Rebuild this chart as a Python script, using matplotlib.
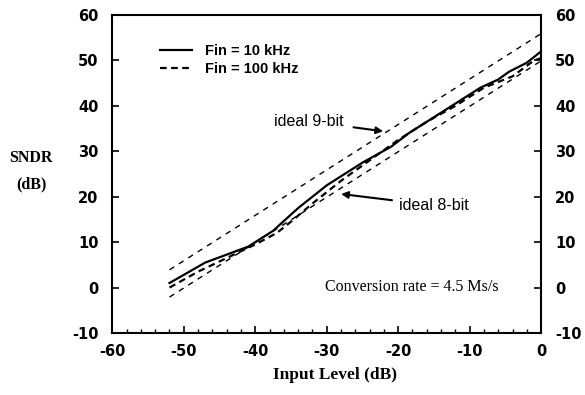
import numpy as np
import matplotlib
matplotlib.use("Agg")
import matplotlib.pyplot as plt
from matplotlib.ticker import MultipleLocator

plt.rcParams["axes.unicode_minus"] = False

# measured SNDR, Fin = 10 kHz
x_10k = [-52, -47, -41, -37.5, -34, -30, -25, -21, -18.5, -15.5, -12.5, -8.5, -6, -4.5, -2, 0]
y_10k = [1, 5.5, 9, 12.5, 17.5, 22.5, 27.5, 31, 34, 37, 40, 44, 45.8, 47.5, 49.5, 52]

# measured SNDR, Fin = 100 kHz
x_100k = [-52, -48, -44, -40, -37, -35, -32, -28, -24, -20, -16, -12, -8, -4, -1, 0]
y_100k = [0, 3.5, 6.5, 9.5, 12, 14.5, 18.5, 23.5, 28, 32.5, 36.5, 40, 44, 46.5, 50, 50.5]

# ideal lines (end points)
x_ideal = [-52, 0]
y_ideal9 = [3.9, 55.9]
y_ideal8 = [-2.1, 49.9]

sans = "Liberation Sans"
serif = "Liberation Serif"

fig = plt.figure(figsize=(5.85, 3.95), dpi=100)
ax = fig.add_axes([0.192, 0.157, 0.733, 0.805])

ax.plot(x_ideal, y_ideal9, color="black", lw=1.0, dashes=(4, 4))
ax.plot(x_ideal, y_ideal8, color="black", lw=1.0, dashes=(4, 4))
l1, = ax.plot(x_10k, y_10k, color="black", lw=1.6)
l2, = ax.plot(x_100k, y_100k, color="black", lw=1.6, dashes=(3, 2))

ax.set_xlim(-60, 0)
ax.set_ylim(-10, 60)
ax.xaxis.set_major_locator(MultipleLocator(10))
ax.xaxis.set_minor_locator(MultipleLocator(2))
ax.yaxis.set_major_locator(MultipleLocator(10))
ax.tick_params(which="major", direction="in", length=5, width=1.2,
               top=False, right=True, labelright=True, pad=8)
ax.tick_params(axis="y", which="major", pad=10)
ax.tick_params(axis="x", which="minor", direction="in", length=3, width=1, top=False)
for t in ax.xaxis.get_major_ticks() + ax.yaxis.get_major_ticks():
    for lab in (t.label1, t.label2):
        lab.set_fontfamily("DejaVu Sans")
        lab.set_fontweight("bold")
        lab.set_fontsize(10.5)
for s in ax.spines.values():
    s.set_linewidth(1.5)

fig.text(0.573, 0.051, "Input Level (dB)", fontfamily=serif, fontweight="bold",
         fontsize=12.5, ha="center", va="center")
fig.text(0.053, 0.6, "SNDR", fontfamily=serif, fontweight="bold", fontsize=11.5,
         ha="center", va="center")
fig.text(0.053, 0.532, "(dB)", fontfamily=serif, fontweight="bold", fontsize=11.5,
         ha="center", va="center")

leg = ax.legend([l1, l2], ["Fin = 10 kHz", "Fin = 100 kHz"], loc="upper left",
                bbox_to_anchor=(0.08, 0.95), frameon=False, handlelength=2.2,
                handletextpad=0.9, labelspacing=0.25,
                prop={"family": sans, "weight": "bold", "size": 10.5})

ax.annotate("ideal 9-bit", xy=(-22.1, 34.4), xytext=(-27.6, 36.6),
            fontfamily=sans, fontsize=11.5, ha="right", va="center",
            arrowprops=dict(arrowstyle="-|>", color="black", lw=1.5, mutation_scale=10,
                            shrinkA=5, shrinkB=0))
ax.annotate("ideal 8-bit", xy=(-28.0, 20.6), xytext=(-19.9, 18.1),
            fontfamily=sans, fontsize=11.5, ha="left", va="center",
            arrowprops=dict(arrowstyle="-|>", color="black", lw=1.5, mutation_scale=10,
                            shrinkA=3, shrinkB=0))
ax.text(-30.3, 0.2, "Conversion rate = 4.5 Ms/s", fontfamily=serif, fontsize=11.5,
        ha="left", va="center")

fig.savefig("out.png", dpi=100)
